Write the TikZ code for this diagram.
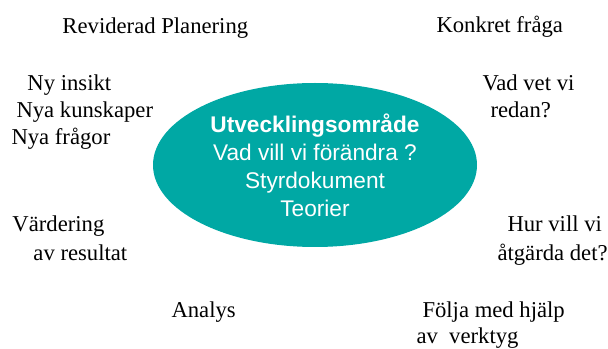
\documentclass[tikz,border=0pt]{standalone}
\usepackage{fontspec}
\setmainfont{Liberation Serif}
\setsansfont{Liberation Sans}
\usetikzlibrary{shapes.geometric}
\tikzset{every picture/.style={line width=0.75pt}}
\tikzset{cycletext/.style={anchor=base west, inner sep=0pt, font=\fontsize{17}{21}\selectfont}}

\begin{document}
\begin{tikzpicture}[x=0.75pt,y=0.75pt,yscale=-1,xscale=1]
	\useasboundingbox (0,0) rectangle (608,349);
	
	%Shape: Ellipse [id:focus] 
	\draw (315,165) node [ellipse, fill={rgb, 255:red, 0; green, 168; blue, 164 }, minimum width=243pt, minimum height=123pt, inner sep=0pt, text=white, align=center, font=\sffamily\fontsize{17}{21}\selectfont] (focus) {\textbf{Utvecklingsområde}\\Vad vill vi förändra ?\\Styrdokument\\Teorier};
	
	% Text Node
	\draw (62,34) node [cycletext] (rev) {Reviderad Planering};
	% Text Node
	\draw (436,33) node [cycletext] (konk) {Konkret fråga};
	% Text Node
	\draw (482,91) node [cycletext] (vet1) {Vad vet vi};
	% Text Node
	\draw (490,118) node [cycletext] (vet2) {redan?};
	% Text Node
	\draw (507,232) node [cycletext] (hur1) {Hur vill vi};
	% Text Node
	\draw (497,261) node [cycletext] (hur2) {åtgärda det?};
	% Text Node
	\draw (422,318) node [cycletext] (folj1) {Följa med hjälp};
	% Text Node
	\draw (416,344) node [cycletext] (folj2) {av\ \ verktyg};
	% Text Node
	\draw (171,318) node [cycletext] (anal) {Analys};
	% Text Node
	\draw (12,232) node [cycletext] (vard1) {Värdering};
	% Text Node
	\draw (33,261) node [cycletext] (vard2) {av resultat};
	% Text Node
	\draw (27,91) node [cycletext] (ins1) {Ny insikt};
	% Text Node
	\draw (16,118) node [cycletext] (ins2) {Nya kunskaper};
	% Text Node
	\draw (11,145) node [cycletext] (ins3) {Nya frågor};
	
\end{tikzpicture}
\end{document}
